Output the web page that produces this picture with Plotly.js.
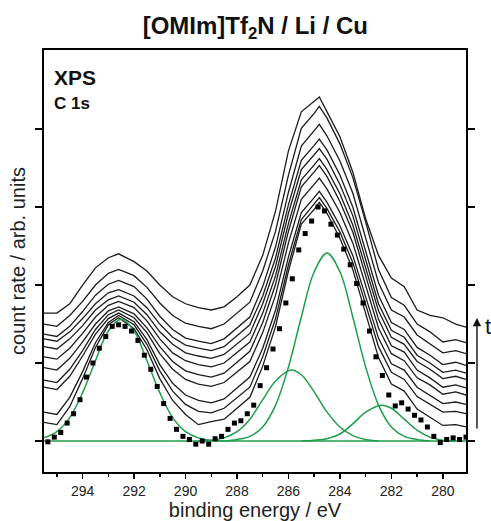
<!DOCTYPE html>
<html>
<head>
<meta charset="utf-8">
<script src="https://cdn.plot.ly/plotly-3.0.1.min.js"></script>
<style>html,body{margin:0;padding:0;background:#fff;}#chart{width:491px;height:521px;}</style>
</head>
<body>
<div id="chart"></div>
<script>
// binding energy grid of the stacked spectra (eV)
const energy = [295.5, 295.0, 294.5, 294.0, 293.5, 293.0, 292.6, 292.0, 291.5, 291.0, 290.5, 290.0, 289.5, 289.0, 288.5, 288.0, 287.5, 287.0, 286.5, 286.0, 285.5, 285.0, 284.8, 284.5, 284.0, 283.5, 283.0, 282.5, 282.0, 281.5, 281.0, 280.5, 280.0, 279.5, 279.1];

// stacked spectra, bottom to top (arb. units)
const run1  = [0.24, 0.21, 0.44, 0.80, 1.20, 1.49, 1.58, 1.44, 1.17, 0.80, 0.52, 0.34, 0.21, 0.25, 0.28, 0.42, 0.56, 0.96, 1.47, 2.18, 2.78, 2.97, 3.06, 2.92, 2.60, 2.20, 1.65, 1.07, 0.73, 0.64, 0.41, 0.31, 0.20, 0.21, 0.18];
const run2  = [0.37, 0.34, 0.56, 0.89, 1.26, 1.52, 1.61, 1.49, 1.24, 0.90, 0.64, 0.47, 0.38, 0.36, 0.42, 0.55, 0.69, 1.08, 1.57, 2.26, 2.84, 3.04, 3.12, 2.98, 2.68, 2.29, 1.76, 1.21, 0.88, 0.79, 0.57, 0.47, 0.37, 0.38, 0.35];
const run3  = [0.69, 0.66, 0.83, 1.09, 1.37, 1.57, 1.64, 1.53, 1.30, 0.98, 0.74, 0.59, 0.52, 0.49, 0.54, 0.68, 0.82, 1.19, 1.68, 2.36, 2.93, 3.12, 3.20, 3.06, 2.76, 2.38, 1.86, 1.32, 0.99, 0.91, 0.69, 0.59, 0.48, 0.50, 0.47];
const run4  = [0.78, 0.75, 0.92, 1.16, 1.43, 1.62, 1.68, 1.58, 1.39, 1.12, 0.92, 0.79, 0.73, 0.70, 0.75, 0.89, 1.02, 1.39, 1.87, 2.54, 3.10, 3.29, 3.37, 3.23, 2.93, 2.54, 2.01, 1.45, 1.12, 1.03, 0.81, 0.72, 0.60, 0.63, 0.59];
const run5  = [0.94, 0.91, 1.06, 1.27, 1.50, 1.67, 1.72, 1.63, 1.45, 1.21, 1.02, 0.90, 0.85, 0.82, 0.87, 1.01, 1.15, 1.52, 2.01, 2.69, 3.26, 3.45, 3.53, 3.39, 3.07, 2.68, 2.13, 1.56, 1.22, 1.14, 0.91, 0.81, 0.69, 0.72, 0.68];
const run6  = [1.08, 1.05, 1.19, 1.38, 1.59, 1.74, 1.79, 1.71, 1.54, 1.31, 1.13, 1.03, 0.98, 0.95, 1.00, 1.14, 1.27, 1.64, 2.12, 2.79, 3.35, 3.54, 3.62, 3.48, 3.17, 2.77, 2.23, 1.67, 1.33, 1.24, 1.02, 0.92, 0.80, 0.83, 0.79];
const run7  = [1.21, 1.18, 1.31, 1.48, 1.68, 1.81, 1.86, 1.78, 1.62, 1.40, 1.24, 1.13, 1.09, 1.06, 1.11, 1.25, 1.38, 1.76, 2.24, 2.92, 3.48, 3.67, 3.75, 3.61, 3.29, 2.89, 2.34, 1.76, 1.42, 1.33, 1.10, 1.00, 0.88, 0.91, 0.87];
const run8  = [1.31, 1.28, 1.40, 1.57, 1.76, 1.90, 1.94, 1.86, 1.71, 1.50, 1.33, 1.23, 1.19, 1.16, 1.21, 1.35, 1.49, 1.86, 2.35, 3.03, 3.60, 3.79, 3.87, 3.73, 3.41, 3.00, 2.45, 1.87, 1.52, 1.43, 1.20, 1.10, 0.98, 1.01, 0.97];
const run9  = [1.37, 1.34, 1.47, 1.66, 1.87, 2.01, 2.06, 1.98, 1.82, 1.60, 1.43, 1.32, 1.28, 1.25, 1.31, 1.45, 1.59, 1.98, 2.49, 3.19, 3.78, 3.98, 4.06, 3.91, 3.59, 3.18, 2.62, 2.03, 1.68, 1.59, 1.36, 1.25, 1.13, 1.16, 1.12];
const run10 = [1.50, 1.47, 1.61, 1.79, 2.00, 2.15, 2.20, 2.12, 1.97, 1.77, 1.61, 1.51, 1.47, 1.44, 1.50, 1.64, 1.78, 2.18, 2.69, 3.41, 4.01, 4.20, 4.29, 4.14, 3.81, 3.38, 2.81, 2.20, 1.84, 1.74, 1.50, 1.40, 1.27, 1.30, 1.26];
const run11 = [1.64, 1.64, 1.76, 2.00, 2.22, 2.35, 2.40, 2.30, 2.18, 2.00, 1.85, 1.76, 1.71, 1.68, 1.72, 1.85, 2.00, 2.38, 2.95, 3.72, 4.22, 4.36, 4.41, 4.22, 3.90, 3.45, 2.85, 2.38, 2.09, 1.98, 1.68, 1.61, 1.58, 1.50, 1.46];
const runs = [run1, run2, run3, run4, run5, run6, run7, run8, run9, run10, run11];

// measured points (black squares)
const dotEnergy = [295.35, 295.10, 294.85, 294.60, 294.35, 294.10, 293.85, 293.60, 293.35, 293.10, 292.85, 292.60, 292.35, 292.10, 291.85, 291.60, 291.35, 291.10, 290.85, 290.60, 290.35, 290.10, 289.85, 289.60, 289.35, 289.10, 288.85, 288.60, 288.35, 288.10, 287.85, 287.60, 287.35, 287.10, 286.85, 286.60, 286.35, 286.10, 285.85, 285.60, 285.35, 285.10, 284.85, 284.60, 284.35, 284.10, 283.85, 283.60, 283.35, 283.10, 282.85, 282.60, 282.35, 282.10, 281.85, 281.60, 281.35, 281.10, 280.85, 280.60, 280.35, 280.10, 279.85, 279.60, 279.35, 279.10];
const dotCounts = [-0.01, 0.05, 0.11, 0.23, 0.35, 0.53, 0.82, 1.00, 1.19, 1.34, 1.47, 1.49, 1.47, 1.41, 1.29, 1.10, 0.92, 0.70, 0.48, 0.29, 0.15, 0.06, 0.02, -0.04, 0.00, -0.04, 0.03, 0.06, 0.15, 0.23, 0.26, 0.35, 0.46, 0.71, 0.94, 1.18, 1.44, 1.77, 2.08, 2.45, 2.66, 2.82, 3.00, 2.95, 2.78, 2.64, 2.46, 2.26, 2.02, 1.77, 1.41, 1.08, 0.84, 0.59, 0.45, 0.49, 0.41, 0.33, 0.27, 0.18, 0.06, -0.02, 0.02, 0.04, 0.02, 0.05];

// fitted components (green)
const fit1Energy = [295.5, 295.0, 294.5, 294.0, 293.5, 293.0, 292.5, 292.0, 291.5, 291.0, 290.5, 290.0, 289.5, 289.0, 288.5];
const fit1 = [0.04, 0.12, 0.30, 0.62, 1.03, 1.41, 1.56, 1.41, 1.03, 0.62, 0.30, 0.12, 0.04, 0.01, 0.00];
const fit2Energy = [288.5, 288.0, 287.5, 287.0, 286.5, 286.0, 285.5, 285.0, 284.5, 284.0, 283.5, 283.0, 282.5, 282.0, 281.5, 281.0, 280.5];
const fit2 = [0.00, 0.02, 0.06, 0.18, 0.46, 0.95, 1.59, 2.17, 2.41, 2.17, 1.59, 0.95, 0.46, 0.18, 0.06, 0.02, 0.00];
const fit3Energy = [289.5, 289.0, 288.5, 288.0, 287.5, 287.0, 286.5, 285.9, 285.5, 285.0, 284.5, 284.0, 283.5, 283.0, 282.5];
const fit3 = [0.00, 0.01, 0.04, 0.12, 0.28, 0.53, 0.77, 0.91, 0.85, 0.63, 0.37, 0.18, 0.07, 0.02, 0.00];
const fit4Energy = [285.5, 285.0, 284.5, 284.0, 283.5, 283.0, 282.4, 282.0, 281.5, 281.0, 280.5, 280.0, 279.5];
const fit4 = [0.00, 0.01, 0.03, 0.09, 0.22, 0.37, 0.46, 0.42, 0.28, 0.14, 0.05, 0.01, 0.00];
const baseEnergy = [295.5, 279.1];
const baseline = [0, 0];

const xTickVals = [294, 292, 290, 288, 286, 284, 282, 280];
const xTickText = ['294', '292', '290', '288', '286', '284', '282', '280'];

const green = '#1f9e48';
const FONT = 'Arial, "Liberation Sans", Helvetica, sans-serif';

const traces = [];
runs.forEach(r => traces.push({x: energy, y: r, mode: 'lines', type: 'scatter',
  line: {color: '#1b1b1b', width: 1.3}, hoverinfo: 'skip', showlegend: false}));
[[baseEnergy, baseline], [fit1Energy, fit1], [fit2Energy, fit2], [fit3Energy, fit3], [fit4Energy, fit4]].forEach(f =>
  traces.push({x: f[0], y: f[1], mode: 'lines', type: 'scatter',
    line: {color: green, width: 1.5, shape: 'spline', smoothing: 1}, showlegend: false}));
traces.push({x: dotEnergy, y: dotCounts, mode: 'markers', type: 'scatter',
  marker: {symbol: 'square', size: 5, color: '#000'}, showlegend: false});

const layout = {
  width: 491, height: 521,
  margin: {l: 44, r: 25, t: 50, b: 49, pad: 0},
  paper_bgcolor: '#fff', plot_bgcolor: '#fff',
  font: {family: FONT, color: '#000'},
  showlegend: false,
  title: {text: '<b>[OMIm]Tf<sub>2</sub>N / Li / Cu</b>', font: {size: 24, family: FONT, color: '#111'},
    x: 0.52, xanchor: 'center', y: 0.95, yanchor: 'middle'},
  xaxis: {range: [295.5, 279.1], tickvals: xTickVals, ticktext: xTickText,
    ticks: 'outside', ticklen: 5, tickwidth: 1.5, tickcolor: '#000',
    minor: {dtick: 1, tick0: 0, ticks: 'outside', ticklen: 3, tickwidth: 1.5, tickcolor: '#000'},
    showline: true, linecolor: '#000', linewidth: 2, mirror: true,
    showgrid: false, zeroline: false, tickfont: {size: 14, color: '#222'},
    title: {text: 'binding energy / eV', font: {size: 20, color: '#222'}, standoff: 3}},
  yaxis: {range: [-0.397, 5.013], tickvals: [0, 1, 2, 3, 4], showticklabels: false,
    ticks: 'outside', ticklen: 7, tickwidth: 1.5, tickcolor: '#000',
    showline: true, linecolor: '#000', linewidth: 2, mirror: 'ticks',
    showgrid: false, zeroline: false,
    title: {text: 'count rate / arb. units', font: {size: 20, color: '#222'}, standoff: 4}},
  annotations: [
    {xref: 'paper', yref: 'paper', x: 0.02, y: 0.934, xanchor: 'left', yanchor: 'middle',
      text: '<b>XPS</b>', showarrow: false, font: {size: 21, color: '#111'}},
    {xref: 'paper', yref: 'paper', x: 0.02, y: 0.874, xanchor: 'left', yanchor: 'middle',
      text: '<b>C 1s</b>', showarrow: false, font: {size: 17, color: '#111'}},
    {xref: 'paper', yref: 'paper', x: 1.026, y: 0.365, ax: 0, ay: 112, axref: 'pixel', ayref: 'pixel',
      text: '', showarrow: true, arrowhead: 2, arrowsize: 1.2, arrowwidth: 1.4, arrowcolor: '#111'},
    {xref: 'paper', yref: 'paper', x: 1.041, y: 0.345, xanchor: 'left', yanchor: 'middle',
      text: 't', showarrow: false, font: {size: 22, color: '#111'}}
  ]
};

Plotly.newPlot('chart', traces, layout, {displayModeBar: false, staticPlot: true});
</script>
</body>
</html>
